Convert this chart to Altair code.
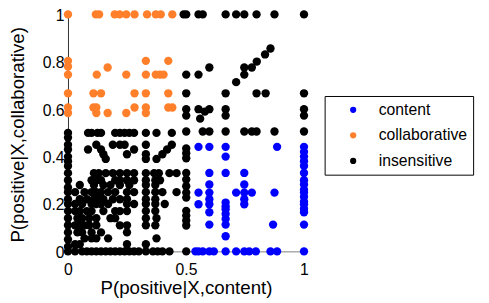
import altair as alt
import pandas as pd

# ---- data ----
collab_x = [0, 0.118, 0.132, 0.198, 0.219, 0.247, 0.282, 0.335, 0.372, 0.393, 0.442,
            0, 0.33, 0.425,
            0,
            0.168,
            0, 0.122, 0.247, 0.33, 0.372, 0.39, 0.405,
            0, 0.108, 0.14, 0.282, 0.33, 0.425,
            0, 0.108, 0.12, 0.282, 0.33, 0.425, 0.442,
            0, 0.12, 0.168, 0.247, 0.33]
collab_y = [1, 1, 1, 1, 1, 1, 1, 1, 1, 1, 1,
            0.804, 0.804, 0.804,
            0.78,
            0.776,
            0.746, 0.746, 0.746, 0.746, 0.746, 0.746, 0.746,
            0.667, 0.667, 0.667, 0.667, 0.667, 0.667,
            0.607, 0.607, 0.607, 0.607, 0.607, 0.607, 0.607,
            0.584, 0.584, 0.584, 0.584, 0.584]

content_x = [0.553, 0.599, 0.668, 0.886, 0.668,
             0.599, 0.668, 0.747,
             0.599, 0.747,
             0.553, 0.599, 0.7125, 0.747, 0.779, 0.875,
             0.599, 0.747, 0.668,
             0.553, 0.599, 0.747, 0.668, 0.668,
             0.599, 0.668, 0.668, 0.668, 0.599, 0.869, 0.668,
             1, 1, 1, 1, 1, 1, 1, 1, 1, 1, 1, 1, 1, 1, 1, 1, 1,
             0.54, 0.553, 0.571, 0.599, 0.618, 0.668, 0.7125, 0.747, 0.768, 0.796, 0.858, 0.886]
content_y = [0.441, 0.441, 0.441, 0.441, 0.40,
             0.331, 0.331, 0.331,
             0.282, 0.282,
             0.248, 0.248, 0.248, 0.248, 0.248, 0.248,
             0.22, 0.22, 0.206,
             0.199, 0.199, 0.199, 0.19, 0.178,
             0.165, 0.158, 0.137, 0.113, 0.113, 0.113, 0.064,
             0.441, 0.42, 0.40, 0.38, 0.36, 0.331, 0.30, 0.282, 0.26, 0.248, 0.23, 0.21, 0.199, 0.18, 0.165, 0.113, 0,
             0, 0, 0, 0, 0, 0, 0, 0, 0, 0, 0, 0]

insens_x = [
    # top right region
    0.49, 0.501, 0.553, 0.571, 0.668, 0.7125, 0.747, 0.799, 0.875, 1.0,
    0.858, 0.835, 0.8, 0.779, 0.747, 0.747, 0.7125, 0.668, 0.599, 0.553, 0.501,
    0.501, 0.799, 0.8375, 1.0,
    0.501, 0.553, 0.599, 0.668, 1.0,
    0.501, 0.56, 0.668, 1.0, 0.58,
    0.501, 0.571, 0.599, 0.668, 0.747, 0.779, 0.799, 0.875, 1.0,
    # x = 0.5 column
    0.501, 0.501, 0.501, 0.501, 0.501, 0.501, 0.501, 0.501, 0.501, 0.501, 0.501, 0.501, 0.501,
    # x = 0 column
    0, 0, 0, 0, 0, 0, 0, 0, 0, 0, 0, 0, 0, 0, 0, 0, 0, 0, 0, 0,
    # rows
    0.085, 0.1, 0.125, 0.14, 0.2, 0.22, 0.24, 0.26, 0.28, 0.33, 0.375, 0.44,
    0.12, 0.19, 0.22, 0.24, 0.33, 0.44,
    0.085, 0.14, 0.28, 0.42,
    0.15, 0.25, 0.4, 0.33,
    0.16, 0.33, 0.375,
    0.11, 0.13, 0.16, 0.19, 0.22, 0.25, 0.28, 0.33, 0.365, 0.385, 0.43, 0.46,
    0.1, 0.12, 0.14, 0.2, 0.22, 0.25, 0.28, 0.33, 0.37, 0.39,
    0.05, 0.11, 0.15, 0.18, 0.22, 0.26, 0.33, 0.37,
    0.03, 0.07, 0.1, 0.12, 0.14, 0.17, 0.2, 0.25, 0.28, 0.33, 0.37, 0.4, 0.46,
    0.05, 0.08, 0.11, 0.13, 0.15, 0.19, 0.22, 0.25, 0.33, 0.37,
    0.03, 0.06, 0.1, 0.12, 0.14, 0.17, 0.25, 0.28, 0.33, 0.37, 0.41,
    0.03, 0.05, 0.08, 0.1, 0.15, 0.2, 0.22, 0.25, 0.33, 0.37,
    0.04, 0.06, 0.09, 0.12, 0.18, 0.2, 0.33, 0.375,
    0.03, 0.05, 0.07, 0.09, 0.12, 0.22, 0.25, 0.33, 0.37,
    0.04, 0.06, 0.1, 0.14, 0.25,
    0.07, 0.1, 0.12, 0.17, 0.375,
    0.03, 0.05, 0.25, 0.33,
    0.03, 0.06, 0.08, 0.1, 0.12, 0.14, 0.16, 0.18, 0.2, 0.22, 0.24, 0.26, 0.28, 0.3, 0.33, 0.36, 0.38, 0.4, 0.43,
]
insens_y = [
    1, 1, 1, 1, 1, 1, 1, 1, 1, 1,
    0.856, 0.831, 0.801, 0.776, 0.776, 0.746, 0.714, 0.667, 0.776, 0.746, 0.746,
    0.667, 0.667, 0.667, 0.667,
    0.6, 0.6, 0.6, 0.6, 0.6,
    0.573, 0.56, 0.573, 0.573, 0.59,
    0.506, 0.506, 0.506, 0.506, 0.506, 0.506, 0.506, 0.506, 0.506,
    0.434, 0.414, 0.393, 0.331, 0.303, 0.275, 0.248, 0.227, 0.171, 0.151, 0.13, 0.109, 0,
    0, 0.02, 0.05, 0.08, 0.11, 0.14, 0.17, 0.2, 0.22, 0.25, 0.27, 0.3, 0.33, 0.36, 0.38, 0.4, 0.43, 0.45, 0.48, 0.5,
    0.5, 0.5, 0.5, 0.5, 0.5, 0.5, 0.5, 0.5, 0.5, 0.5, 0.5, 0.5,
    0.45, 0.45, 0.45, 0.45, 0.45, 0.45,
    0.43, 0.43, 0.43, 0.43,
    0.41, 0.41, 0.41, 0.41,
    0.39, 0.39, 0.39,
    0.33, 0.33, 0.33, 0.33, 0.33, 0.33, 0.33, 0.33, 0.33, 0.33, 0.33, 0.33,
    0.30, 0.30, 0.30, 0.30, 0.30, 0.30, 0.30, 0.30, 0.30, 0.30,
    0.28, 0.28, 0.28, 0.28, 0.28, 0.28, 0.28, 0.28,
    0.25, 0.25, 0.25, 0.25, 0.25, 0.25, 0.25, 0.25, 0.25, 0.25, 0.25, 0.25, 0.25,
    0.22, 0.22, 0.22, 0.22, 0.22, 0.22, 0.22, 0.22, 0.22, 0.22,
    0.2, 0.2, 0.2, 0.2, 0.2, 0.2, 0.2, 0.2, 0.2, 0.2, 0.2,
    0.17, 0.17, 0.17, 0.17, 0.17, 0.17, 0.17, 0.17, 0.17, 0.17,
    0.14, 0.14, 0.14, 0.14, 0.14, 0.14, 0.14, 0.14,
    0.11, 0.11, 0.11, 0.11, 0.11, 0.11, 0.11, 0.11, 0.11,
    0.08, 0.08, 0.08, 0.08, 0.08,
    0.055, 0.055, 0.055, 0.055, 0.055,
    0.03, 0.03, 0.03, 0.03,
    0, 0, 0, 0, 0, 0, 0, 0, 0, 0, 0, 0, 0, 0, 0, 0, 0, 0, 0,
]

groups = ["content", "collaborative", "insensitive"]
colors = ["#0000ff", "#ff7f2a", "#000000"]

rows = []
for x, y in zip(insens_x, insens_y):
    rows.append({"x": x, "y": y, "g": "insensitive", "o": 0})
for x, y in zip(content_x, content_y):
    rows.append({"x": x, "y": y, "g": "content", "o": 1})
for x, y in zip(collab_x, collab_y):
    rows.append({"x": x, "y": y, "g": "collaborative", "o": 2})
df = pd.DataFrame(rows)

font = "Liberation Sans"

chart = alt.Chart(df).mark_circle(size=72, opacity=1, clip=False).encode(
    x=alt.X("x:Q", scale=alt.Scale(domain=[0, 1], nice=False, zero=False),
            axis=alt.Axis(title="P(positive|X,content)", values=[0, 0.5, 1], format="~g",
                          grid=False, ticks=False, domainColor="#808080", domainWidth=1,
                          labelFontSize=16, labelFont=font, labelColor="#000",
                          labelPadding=11, labelFlush=False, labelOverlap=False, labelBound=False,
                          titleFontSize=19, titleFont=font, titleFontWeight="normal", titleColor="#000",
                          titleBaseline="alphabetic", titleY=43, titleX=120)),
    y=alt.Y("y:Q", scale=alt.Scale(domain=[0, 1], nice=False, zero=False),
            axis=alt.Axis(title="P(positive|X,collaborative)", values=[0, 0.2, 0.4, 0.6, 0.8, 1], format="~g",
                          grid=False, ticks=False, domainColor="#333333", domainWidth=1,
                          labelFontSize=16, labelFont=font, labelColor="#000",
                          labelPadding=4, labelFlush=False, labelOverlap=False, labelBound=False,
                          labelOffset=1,
                          titleFontSize=19, titleFont=font, titleFontWeight="normal", titleColor="#000",
                          titleAngle=270, titleBaseline="alphabetic", titleAlign="center",
                          titleX=-45, titleY=122)),
    color=alt.Color("g:N", scale=alt.Scale(domain=groups, range=colors),
                    legend=alt.Legend(title=None, orient="none", legendX=261, legendY=83,
                                      strokeColor="#000", fillColor="#fff", padding=6,
                                      symbolType="circle", symbolSize=40, symbolOffset=15,
                                      labelFontSize=16, labelFont=font, labelColor="#000",
                                      labelOffset=18, rowPadding=10, symbolStrokeWidth=0)),
    order=alt.Order("o:Q"),
).properties(
    width=240, height=241,
    background="#ffffff",
    autosize=alt.AutoSizeParams(type="none"),
    padding={"left": 61, "top": 4, "right": 180, "bottom": 50},
).configure_view(strokeWidth=0, stroke="transparent")

chart.save("out.html", embed_options={"renderer": "svg", "actions": False})
